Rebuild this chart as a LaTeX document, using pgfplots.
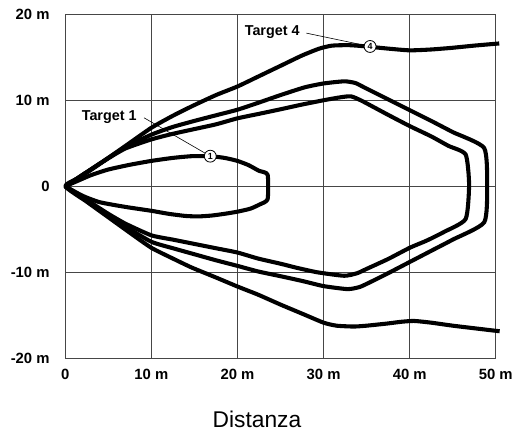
\documentclass[border=0pt]{standalone}
\usepackage{fontspec}
\setmainfont{Liberation Sans}
\setsansfont{Liberation Sans}
\usepackage{pgfplots}
\pgfplotsset{compat=1.18}
\definecolor{gridc}{RGB}{70,70,70}
\tikzset{curve/.style={black, line width=4.1bp, line join=round, smooth, tension=0.35, mark=none}}
\begin{document}
\begin{tikzpicture}
\begin{axis}[
  at={(0,0)}, anchor=south west,
  scale only axis, width=433.3bp, height=346.4bp,
  xmin=0, xmax=50, ymin=-20, ymax=20,
  xtick={0,10,20,30,40,50}, xticklabels={0,10 m,20 m,30 m,40 m,50 m},
  ytick={-20,-10,0,10,20}, yticklabels={-20 m,-10 m,0,10 m,20 m},
  grid=major, major grid style={line width=0.9bp, color=gridc},
  axis line style={line width=0.9bp, color=gridc},
  major tick length=0pt,
  tick label style={font=\fontsize{15}{17}\selectfont\bfseries},
  xticklabel style={yshift=-7bp},
  yticklabel style={xshift=-12.3bp},
  clip=false,
]
% Target 1 (innermost)
\addplot[curve] coordinates {(0,0) (0.8,0.35) (1.6,0.7) (3,1.3) (5,1.95) (7.5,2.5) (10,2.95) (12.5,3.3) (14.7,3.5) (16.8,3.5) (18.5,3.3) (20,2.95) (21.3,2.45) (22.5,1.8) (23.5,1.35) (23.5,-1.5) (22.6,-2.1) (21.5,-2.6) (20,-2.95) (18.5,-3.2) (17,-3.4) (15.5,-3.5) (14,-3.45) (12,-3.2) (10,-2.85) (7,-2.4) (4,-1.85) (2,-1.1) (0,0)};
% inner middle
\addplot[curve] coordinates {(0,0) (2.5,1.65) (5,3.25) (7,4.4) (10,5.45) (12.5,6.1) (15,6.65) (17.5,7.2) (20,7.9) (22.4,8.4) (25,8.95) (27.5,9.5) (30,10.0) (32,10.35) (33.2,10.45) (34.5,9.9) (37.5,8.3) (40,7.0) (42.5,5.8) (44.5,4.7) (46.5,3.7) (46.9,0.2) (46.5,-3.8) (44,-5.3) (42,-6.3) (40,-7.15) (37.5,-8.45) (35,-9.6) (33.9,-10.1) (32.4,-10.4) (29.3,-10.0) (27,-9.5) (25,-9.0) (22.4,-8.4) (20,-7.7) (17.5,-7.2) (15,-6.7) (12.5,-6.2) (10,-5.7) (7,-4.35) (5,-3.2) (2.5,-1.6) (0,0)};
% outer middle
\addplot[curve] coordinates {(0,0) (2.5,1.65) (5,3.3) (7,4.55) (10,6.0) (12.5,6.9) (15,7.6) (17.5,8.25) (20,8.9) (22.4,9.7) (25,10.6) (27.8,11.5) (30,11.95) (32.4,12.2) (33.7,12.0) (34.7,11.5) (37.5,10.1) (40,8.85) (42.5,7.6) (45,6.3) (48.65,4.45) (49,0) (48.65,-4.2) (45,-6.2) (42.5,-7.5) (40,-8.8) (37.5,-10.1) (35.5,-11.1) (34.2,-11.7) (32.8,-11.95) (30,-11.6) (27.5,-11.0) (25,-10.45) (22.4,-9.9) (20,-9.25) (17.5,-8.6) (15,-7.9) (12.5,-7.2) (10,-6.45) (7,-4.7) (5,-3.4) (2.5,-1.7) (0,0)};
% Target 4 (outermost, open)
\addplot[curve] coordinates {(50.45,-16.85) (47.5,-16.5) (45,-16.2) (42.5,-15.85) (40.5,-15.65) (39,-15.75) (37.4,-15.95) (35,-16.2) (33.5,-16.3) (31.5,-16.2) (30,-15.85) (27.5,-14.8) (25,-13.75) (22.4,-12.6) (20,-11.65) (17.5,-10.6) (14.7,-9.45) (12.5,-8.4) (10,-7.15) (7.5,-5.4) (5,-3.6) (2.5,-1.8) (0,0) (1.5,0.95) (3.2,2.05) (5,3.3) (7,4.7) (10,6.8) (12.5,8.2) (14.7,9.3) (17.5,10.6) (20,11.6) (22.4,12.75) (25,14.0) (27.5,15.2) (29.5,16.0) (31,16.35) (33,16.4) (35,16.25) (37.5,16.0) (40,15.8) (42.5,15.9) (45,16.1) (47.5,16.35) (50.4,16.6)};
% annotations
\draw[line width=0.6bp] (axis cs:9.15,7.96) -- (axis cs:16.84,3.5);
\draw[line width=0.6bp] (axis cs:28.0,17.8) -- (axis cs:35.4,16.25);
\node[circle, draw, line width=0.8bp, fill=white, inner sep=0pt, minimum size=12bp, font=\fontsize{9}{9}\selectfont\bfseries] at (axis cs:16.84,3.5) {1};
\node[circle, draw, line width=0.8bp, fill=white, inner sep=0pt, minimum size=12bp, font=\fontsize{9}{9}\selectfont\bfseries] at (axis cs:35.4,16.25) {4};
\node[font=\fontsize{14.5}{16}\selectfont\bfseries] at (axis cs:5.1,8.07) {Target 1};
\node[font=\fontsize{14.5}{16}\selectfont\bfseries] at (axis cs:24.03,17.95) {Target 4};
\node[font=\fontsize{23}{26}\selectfont, anchor=base] at (axis cs:22.26,-28.0) {Distanza};
\end{axis}
\path[use as bounding box] (-65.7bp,-73.3bp) rectangle (450.3bp,360.7bp);
\end{tikzpicture}
\end{document}
